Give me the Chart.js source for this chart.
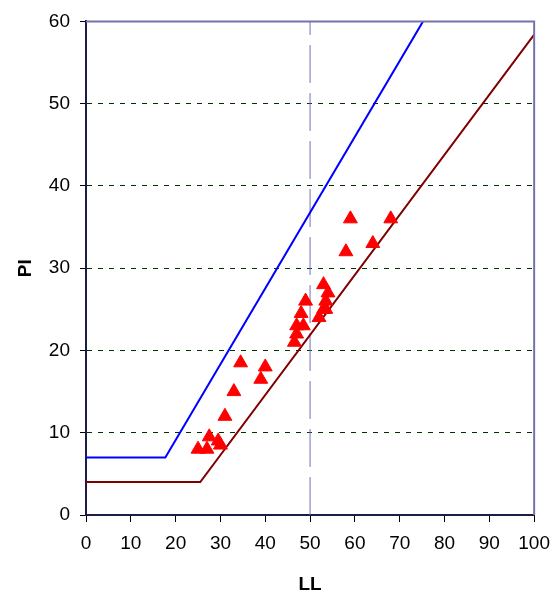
<!DOCTYPE html>
<html>
<head>
<meta charset="utf-8">
<script src="https://cdn.jsdelivr.net/npm/chart.js@4/dist/chart.umd.min.js"></script>
<style>
html,body{margin:0;padding:0;background:#fff;}
#wrap{width:560px;height:596px;}
</style>
</head>
<body>
<div id="wrap"><canvas id="c" width="560" height="596"></canvas></div>
<script>
// Sample points (liquid limit, plasticity index)
const sampleLL = [25, 27, 27.5, 29.5, 30, 31, 33, 34.5, 39, 40, 46.5, 47, 47, 48, 48.5, 49, 52, 53, 53.5, 53.5, 53, 54, 58, 59, 64, 68];
const samplePI = [8, 8, 9.5, 9, 8.5, 12, 15, 18.5, 16.5, 18, 21, 22, 23, 24.5, 23, 26, 24, 25, 26, 25, 28, 27, 32, 36, 33, 36];
// U-line (blue)
const uLineLL = [0, 17.7, 75.2];
const uLinePI = [7, 7, 60];
// A-line (brown)
const aLineLL = [0, 25.5, 100];
const aLinePI = [4, 4, 58.4];
// Vertical divider at LL = 50
const dividerLL = [50, 50];
const dividerPI = [0, 60];
// Axis ticks
const xTicks = [0, 10, 20, 30, 40, 50, 60, 70, 80, 90, 100];
const yTicks = [0, 10, 20, 30, 40, 50, 60];

const zip = (xs, ys) => xs.map((x, i) => ({x: x, y: ys[i]}));
const FONT = "'Liberation Sans', Arial, sans-serif";

const framePlugin = {
  id: 'frame',
  afterDatasetsDraw(chart) {
    const {ctx, chartArea: a} = chart;
    ctx.save();
    ctx.strokeStyle = '#7474ac';
    ctx.lineWidth = 2;
    ctx.beginPath();
    ctx.moveTo(a.left, a.top);
    ctx.lineTo(a.right, a.top);
    ctx.lineTo(a.right, a.bottom);
    ctx.stroke();
    ctx.restore();
  }
};

new Chart(document.getElementById('c'), {
  type: 'scatter',
  data: {
    datasets: [
      {
        label: 'LL50',
        data: zip(dividerLL, dividerPI),
        showLine: true,
        borderColor: '#7070b8',
        borderWidth: 1,
        borderDash: [38, 10],
        pointRadius: 0,
        order: 4
      },
      {
        label: 'U-line',
        data: zip(uLineLL, uLinePI),
        showLine: true,
        borderColor: '#0000ff',
        borderWidth: 2,
        pointRadius: 0,
        order: 3
      },
      {
        label: 'A-line',
        data: zip(aLineLL, aLinePI),
        showLine: true,
        borderColor: '#800000',
        borderWidth: 2,
        pointRadius: 0,
        order: 2
      },
      {
        label: 'Samples',
        data: zip(sampleLL, samplePI),
        pointStyle: 'triangle',
        pointRadius: 8,
        pointHoverRadius: 8,
        backgroundColor: '#ff0000',
        borderColor: '#ff0000',
        borderWidth: 1,
        order: 1
      }
    ]
  },
  options: {
    responsive: false,
    animation: false,
    events: [],
    layout: {padding: {left: 0, right: 25, top: 20, bottom: 0}},
    plugins: {legend: {display: false}, tooltip: {enabled: false}},
    scales: {
      x: {
        type: 'linear',
        min: 0, max: 100,
        afterBuildTicks: (s) => { s.ticks = xTicks.map(v => ({value: v})); },
        afterFit: (s) => { s.height = 81; },
        ticks: {color: '#000', font: {family: FONT, size: 19}, padding: 10, maxRotation: 0},
        grid: {display: true, drawOnChartArea: false, drawTicks: true, tickLength: 7, tickColor: '#000', tickWidth: 1},
        border: {display: true, color: '#1c1c48', width: 2},
        title: {display: true, text: 'LL', color: '#000', font: {family: FONT, size: 19, weight: 'bold'}, padding: {top: 0, bottom: 0}}
      },
      y: {
        type: 'linear',
        min: 0, max: 60,
        afterBuildTicks: (s) => { s.ticks = yTicks.map(v => ({value: v})); },
        afterFit: (s) => { s.width = 86; },
        ticks: {color: '#000', font: {family: FONT, size: 19}, padding: 10},
        grid: {
          display: true,
          drawOnChartArea: true,
          drawTicks: true,
          tickLength: 6,
          tickColor: '#000',
          tickWidth: 1,
          tickBorderDash: [],
          color: (ctx) => (ctx.tick && ctx.tick.value > 0 && ctx.tick.value < 60) ? '#003300' : 'rgba(0,0,0,0)',
          lineWidth: 1
        },
        border: {display: true, color: '#1c1c48', width: 2, dash: [5, 6]},
        title: {display: true, text: 'PI', color: '#000', font: {family: FONT, size: 19, weight: 'bold'}, padding: {top: 14, bottom: 0}}
      }
    }
  },
  plugins: [framePlugin]
});
</script>
</body>
</html>
